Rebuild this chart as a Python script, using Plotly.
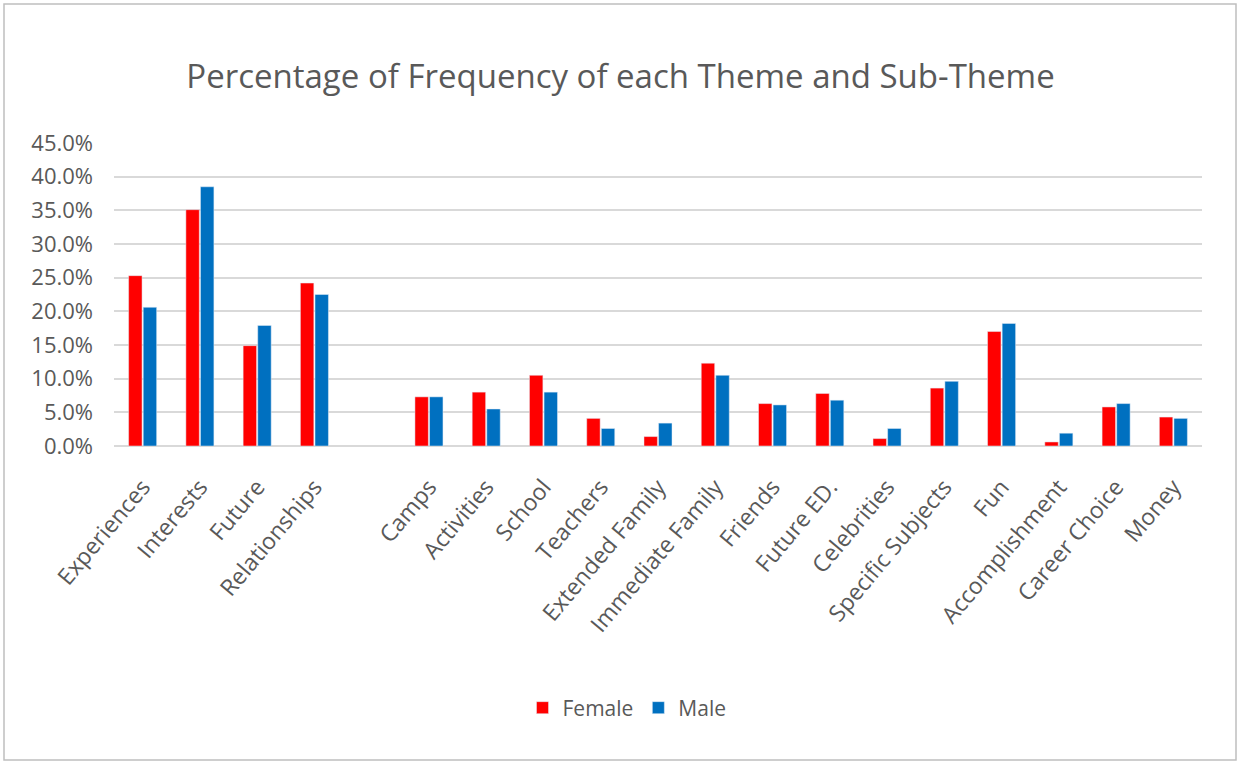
import plotly.graph_objects as go

categories = ["Experiences", "Interests", "Future", "Relationships", " ",
              "Camps", "Activities", "School", "Teachers", "Extended Family",
              "Immediate Family", "Friends", "Future ED.", "Celebrities",
              "Specific Subjects", "Fun", "Accomplishment", "Career Choice", "Money"]
female = [25.3, 35.1, 14.9, 24.2, None,
          7.3, 8.0, 10.5, 4.1, 1.4,
          12.3, 6.3, 7.8, 1.1,
          8.6, 17.0, 0.6, 5.8, 4.3]
male = [20.6, 38.5, 17.9, 22.5, None,
        7.3, 5.5, 8.0, 2.6, 3.4,
        10.5, 6.1, 6.8, 2.6,
        9.6, 18.2, 1.9, 6.3, 4.1]
y_ticks = [0, 5, 10, 15, 20, 25, 30, 35, 40, 45]
y_tick_labels = [f"{v:.1f}%" for v in y_ticks]

FONT = "Open Sans"
GREY = "#595959"

fig = go.Figure()
fig.add_trace(go.Bar(name="Female", x=categories, y=female, marker_color="#FF0000"))
fig.add_trace(go.Bar(name="Male", x=categories, y=male, marker_color="#0070C0"))

W, H = 1241, 765
ml, mr, mt, mb = 114, 39, 143, 319
pw, ph = W - ml - mr, H - mt - mb

fig.update_layout(
    width=W, height=H,
    margin=dict(l=ml, r=mr, t=mt, b=mb),
    paper_bgcolor="white", plot_bgcolor="white",
    barmode="group", bargap=0.49, bargroupgap=0.08,
    font=dict(family=FONT, color=GREY),
    title=dict(text="Percentage of Frequency of each Theme and Sub-Theme",
               x=0.5, xanchor="center", y=1 - 76 / H, yanchor="middle",
               font=dict(size=33, color=GREY, family=FONT)),
    legend=dict(orientation="h", x=(627 - ml) / pw, xanchor="center",
                y=(446 - 708) / ph, yanchor="middle",
                font=dict(size=21, color=GREY), itemwidth=30, traceorder="normal"),
    xaxis=dict(type="category", categoryorder="array", categoryarray=categories,
               range=[-0.5, len(categories) - 0.5],
               tickangle=-50, tickfont=dict(size=23, color=GREY),
               ticklabelstandoff=22,
               showgrid=False, showline=False, ticks="", zeroline=False),
    yaxis=dict(range=[0, 45], tickvals=y_ticks, ticktext=y_tick_labels,
               tickfont=dict(size=22, color=GREY), showgrid=True,
               ticklabelstandoff=20,
               gridcolor="#D9D9D9", gridwidth=2, zeroline=True,
               zerolinecolor="#D9D9D9", zerolinewidth=2, ticks="", ticklen=0),
    shapes=[dict(type="rect", xref="paper", yref="paper",
                 x0=(4 - ml) / pw, x1=(1236 - ml) / pw,
                 y0=(H - mb - 760) / ph, y1=(H - mb - 4) / ph,
                 line=dict(color="#BFBFBF", width=1.5), fillcolor="rgba(0,0,0,0)",
                 layer="below")],
)

fig.write_html("out.html")
